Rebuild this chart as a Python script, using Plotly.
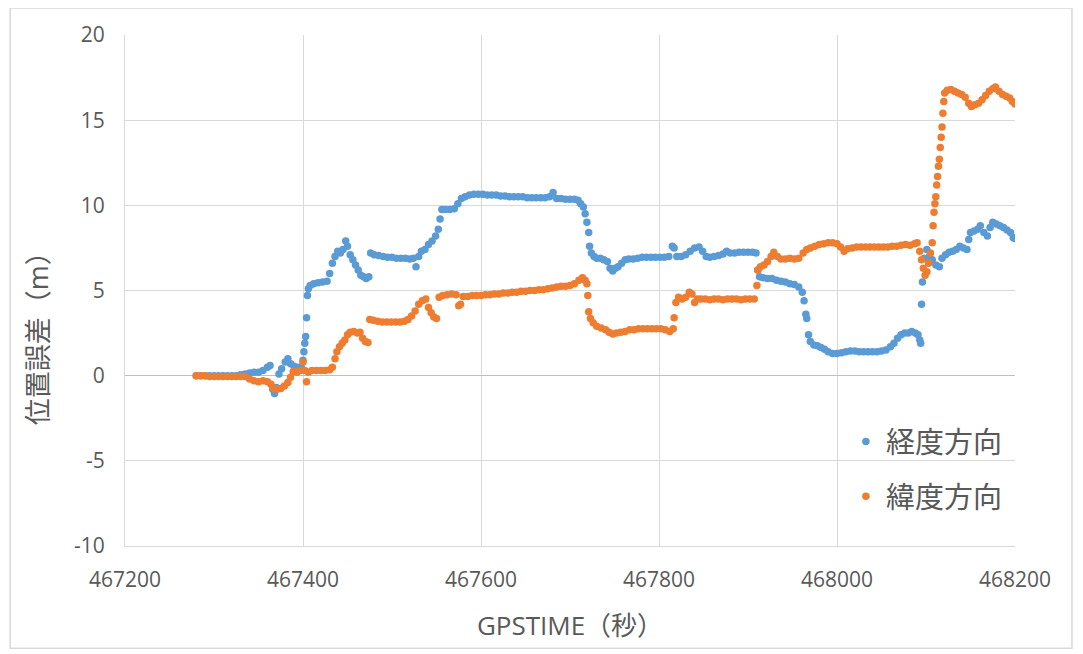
import plotly.graph_objects as go

# 経度方向 (longitude error)
lon_time = [
    467280, 467285, 467290, 467295, 467300, 467305, 467310, 467315, 467320, 467325,
    467330, 467335, 467340, 467345, 467350, 467355, 467360, 467363, 467366, 467368,
    467370, 467373, 467376, 467380, 467383, 467386, 467390, 467395, 467398, 467400,
    467401, 467402, 467403, 467404, 467405, 467406, 467408, 467412, 467417, 467422,
    467427, 467430, 467433, 467436, 467439, 467442, 467445, 467448, 467450, 467453,
    467456, 467459, 467462, 467465, 467468, 467471, 467474, 467476, 467480, 467485,
    467490, 467495, 467500, 467505, 467510, 467515, 467520, 467524, 467527, 467530,
    467533, 467537, 467541, 467545, 467549, 467552, 467554, 467556, 467560, 467565,
    467570, 467574, 467578, 467582, 467587, 467592, 467597, 467602, 467607, 467612,
    467617, 467622, 467627, 467632, 467637, 467642, 467647, 467652, 467657, 467662,
    467667, 467672, 467677, 467681, 467685, 467690, 467695, 467700, 467705, 467709,
    467712, 467715, 467717, 467719, 467721, 467722, 467724, 467727, 467730, 467734,
    467738, 467742, 467745, 467748, 467751, 467754, 467758, 467762, 467766, 467771,
    467776, 467781, 467786, 467791, 467796, 467801, 467806, 467811, 467815, 467817,
    467820, 467825, 467830, 467835, 467840, 467845, 467849, 467853, 467857, 467862,
    467867, 467872, 467876, 467880, 467885, 467890, 467895, 467900, 467905, 467909,
    467911, 467913, 467917, 467922, 467927, 467932, 467937, 467942, 467947, 467952,
    467957, 467961, 467963, 467965, 467966, 467968, 467970, 467974, 467978, 467982,
    467986, 467990, 467995, 468000, 468005, 468010, 468015, 468020, 468025, 468030,
    468035, 468040, 468045, 468050, 468055, 468060, 468064, 468068, 468072, 468076,
    468080, 468084, 468088, 468091, 468093, 468094, 468095, 468096, 468098, 468101,
    468104, 468107, 468111, 468115, 468118, 468122, 468126, 468130, 468134, 468138,
    468142, 468146, 468148, 468150, 468154, 468158, 468161, 468165, 468169, 468172,
    468175, 468179, 468183, 468187, 468191, 468195, 468198, 468200,
]
lon_err = [
    0.0, 0.0, 0.0, 0.0, 0.0, 0.0, 0.0, 0.0, 0.0, 0.0,
    0.05, 0.1, 0.15, 0.2, 0.2, 0.3, 0.5, 0.6, -0.8, -1.05,
    -0.7, 0.1, 0.4, 0.8, 1.0, 0.7, 0.55, 0.5, 0.5, 0.9,
    1.4, 1.9, 2.3, 3.4, 4.7, 5.1, 5.3, 5.4, 5.45, 5.5,
    5.55, 6.0, 6.6, 7.0, 7.3, 7.2, 7.4, 7.9, 7.6, 7.1,
    6.8, 6.5, 6.2, 5.9, 5.8, 5.7, 5.8, 7.2, 7.1, 7.05,
    7.0, 6.95, 6.95, 6.9, 6.9, 6.9, 6.85, 6.9, 6.4, 7.0,
    7.3, 7.4, 7.7, 7.9, 8.2, 8.6, 9.2, 9.75, 9.75, 9.75,
    9.8, 10.1, 10.4, 10.5, 10.6, 10.65, 10.65, 10.65, 10.6, 10.6,
    10.6, 10.55, 10.55, 10.5, 10.5, 10.5, 10.5, 10.45, 10.45, 10.45,
    10.45, 10.45, 10.5, 10.75, 10.4, 10.4, 10.35, 10.35, 10.35, 10.3,
    10.1, 9.9, 9.5, 9.0, 8.4, 7.6, 7.2, 7.0, 6.9, 6.9,
    6.8, 6.7, 6.3, 6.15, 6.3, 6.4, 6.6, 6.8, 6.85, 6.85,
    6.9, 6.95, 6.95, 6.95, 6.95, 6.95, 6.95, 7.0, 7.6, 7.5,
    7.0, 7.0, 7.1, 7.3, 7.5, 7.55, 7.3, 7.0, 6.95, 7.0,
    7.05, 7.15, 7.3, 7.2, 7.2, 7.25, 7.25, 7.25, 7.25, 7.2,
    6.2, 5.8, 5.75, 5.7, 5.7, 5.6, 5.55, 5.5, 5.4, 5.35,
    5.2, 4.9, 4.4, 3.6, 3.35, 2.4, 2.0, 1.8, 1.75, 1.65,
    1.55, 1.4, 1.3, 1.3, 1.35, 1.4, 1.45, 1.45, 1.4, 1.4,
    1.4, 1.4, 1.4, 1.45, 1.5, 1.7, 1.9, 2.2, 2.4, 2.5,
    2.5, 2.6, 2.5, 2.4, 2.1, 1.9, 4.2, 5.5, 6.9, 7.4,
    7.0, 6.8, 6.5, 6.4, 6.9, 7.1, 7.25, 7.3, 7.4, 7.6,
    7.5, 7.4, 8.0, 8.4, 8.5, 8.6, 8.8, 8.4, 8.2, 8.7,
    9.0, 8.9, 8.8, 8.7, 8.55, 8.4, 8.1, 8.05,
]

# 緯度方向 (latitude error)
lat_time = [
    467280, 467285, 467290, 467295, 467300, 467305, 467310, 467315, 467320, 467325,
    467330, 467335, 467340, 467345, 467350, 467355, 467360, 467364, 467367, 467371,
    467375, 467379, 467383, 467386, 467389, 467393, 467397, 467400, 467402, 467404,
    467406, 467410, 467415, 467420, 467425, 467430, 467433, 467436, 467438, 467441,
    467444, 467447, 467450, 467453, 467457, 467461, 467464, 467467, 467470, 467473,
    467475, 467479, 467484, 467489, 467494, 467499, 467504, 467509, 467514, 467518,
    467522, 467526, 467530, 467534, 467538, 467541, 467544, 467547, 467550, 467553,
    467557, 467562, 467567, 467572, 467575, 467577, 467580, 467585, 467590, 467595,
    467600, 467605, 467610, 467615, 467620, 467625, 467630, 467635, 467640, 467645,
    467650, 467655, 467660, 467665, 467670, 467675, 467680, 467685, 467690, 467695,
    467700, 467705, 467710, 467714, 467717, 467719, 467720, 467721, 467723, 467726,
    467730, 467735, 467740, 467744, 467748, 467752, 467757, 467762, 467767, 467772,
    467777, 467782, 467787, 467792, 467797, 467802, 467807, 467812, 467816, 467817,
    467819, 467822, 467826, 467830, 467834, 467837, 467840, 467843, 467847, 467852,
    467857, 467862, 467867, 467872, 467877, 467882, 467887, 467892, 467897, 467902,
    467907, 467910, 467911, 467914, 467918, 467922, 467926, 467929, 467933, 467937,
    467942, 467947, 467952, 467957, 467962, 467966, 467970, 467975, 467980, 467985,
    467990, 467995, 468000, 468004, 468008, 468012, 468017, 468022, 468027, 468032,
    468037, 468042, 468047, 468052, 468057, 468062, 468067, 468072, 468077, 468082,
    468087, 468090, 468093, 468095, 468097, 468099, 468101, 468103, 468105, 468107,
    468108, 468109, 468110, 468111, 468112, 468113, 468114, 468115, 468116, 468117,
    468118, 468119, 468120, 468121, 468124, 468128, 468132, 468136, 468140, 468144,
    468148, 468151, 468155, 468159, 468163, 468167, 468171, 468175, 468178, 468182,
    468186, 468190, 468194, 468197, 468200,
]
lat_err = [
    0.0, 0.0, 0.0, -0.05, -0.05, -0.05, -0.05, -0.05, -0.05, -0.05,
    -0.05, -0.05, -0.2, -0.3, -0.35, -0.3, -0.35, -0.5, -0.75, -0.8,
    -0.75, -0.6, -0.4, -0.1, 0.25, 0.2, 0.3, 0.8, 0.3, -0.35,
    0.2, 0.3, 0.3, 0.3, 0.3, 0.35, 0.5, 1.0, 1.4, 1.7,
    1.9, 2.1, 2.4, 2.55, 2.6, 2.5, 2.55, 2.2, 2.0, 1.95,
    3.3, 3.25, 3.2, 3.15, 3.15, 3.15, 3.15, 3.15, 3.2, 3.3,
    3.5, 3.8, 4.2, 4.4, 4.5, 4.0, 3.7, 3.45, 3.35, 4.6,
    4.7, 4.75, 4.8, 4.75, 4.1, 4.2, 4.65, 4.65, 4.7, 4.7,
    4.7, 4.75, 4.75, 4.8, 4.8, 4.85, 4.85, 4.9, 4.9, 4.95,
    4.95, 5.0, 5.0, 5.05, 5.05, 5.1, 5.15, 5.2, 5.25, 5.25,
    5.3, 5.4, 5.6, 5.75, 5.6, 5.4, 4.7, 3.75, 3.35, 3.1,
    2.9, 2.8, 2.7, 2.55, 2.45, 2.5, 2.55, 2.6, 2.7, 2.7,
    2.75, 2.75, 2.75, 2.75, 2.75, 2.75, 2.7, 2.6, 2.75, 3.4,
    4.3, 4.6, 4.5, 4.6, 4.9, 4.8, 4.3, 4.5, 4.5, 4.5,
    4.45, 4.5, 4.5, 4.45, 4.5, 4.5, 4.5, 4.45, 4.5, 4.5,
    4.5, 5.3, 6.2, 6.4, 6.5, 6.7, 7.0, 7.25, 7.0, 6.85,
    6.85, 6.9, 6.85, 6.9, 7.2, 7.4, 7.5, 7.6, 7.7, 7.75,
    7.8, 7.8, 7.75, 7.55, 7.3, 7.45, 7.5, 7.55, 7.55, 7.55,
    7.55, 7.55, 7.55, 7.55, 7.55, 7.6, 7.6, 7.65, 7.7, 7.65,
    7.75, 7.8, 7.3, 6.8, 6.3, 5.9, 6.1, 6.6, 7.2, 7.8,
    8.8, 9.6, 10.1, 10.5, 11.2, 11.7, 12.3, 12.7, 13.4, 14.0,
    14.6, 15.4, 16.1, 16.6, 16.75, 16.8, 16.7, 16.6, 16.5, 16.35,
    16.0, 15.8, 15.9, 16.0, 16.2, 16.45, 16.7, 16.85, 16.95, 16.7,
    16.5, 16.4, 16.3, 16.1, 15.95,
]

x_ticks = [467200, 467400, 467600, 467800, 468000, 468200]
y_ticks = [-10, -5, 0, 5, 10, 15, 20]
y_tick_text = ["-10", "-5", "0", "5", "10", "15", "20"]

BLUE = "#5B9BD5"
ORANGE = "#ED7D31"
GRID = "#D9D9D9"
TEXT = "#595959"
FONT = "Open Sans, Noto Sans CJK JP, sans-serif"

fig = go.Figure()
fig.add_trace(go.Scatter(
    x=lon_time, y=lon_err, mode="markers", name="経度方向",
    marker=dict(color=BLUE, size=7.5), legend="legend", showlegend=True,
))
fig.add_trace(go.Scatter(
    x=lat_time, y=lat_err, mode="markers", name="緯度方向",
    marker=dict(color=ORANGE, size=7.5), legend="legend2", showlegend=True,
))

legend_style = dict(
    xanchor="left", yanchor="middle", x=0.81,
    font=dict(size=29, color=TEXT, family=FONT),
    bgcolor="rgba(0,0,0,0)", visible=True,
)

fig.update_layout(
    width=1083, height=654,
    margin=dict(l=117, r=76, t=25, b=116),
    paper_bgcolor="white", plot_bgcolor="white",
    font=dict(family=FONT, color=TEXT, size=21),
    showlegend=True,
    legend=dict(y=0.204, **legend_style),
    legend2=dict(y=0.097, **legend_style),
    shapes=[dict(
        type="rect", xref="paper", yref="paper",
        x0=-0.129, x1=1.064, y0=-0.2, y1=1.053,
        line=dict(color=GRID, width=1.5), layer="below",
    )],
    annotations=[dict(
        text="位置誤差（m）", textangle=-90, showarrow=False,
        xref="paper", yref="paper", x=-0.098, y=0.42,
        xanchor="center", yanchor="middle",
        font=dict(size=27, color=TEXT, family=FONT),
    )],
)
fig.update_xaxes(
    range=[467200, 468200], tickvals=x_ticks, tickformat="d",
    showgrid=True, gridcolor=GRID, gridwidth=1.3,
    showline=True, linecolor=GRID,
    zeroline=False, ticks="outside", ticklen=15, tickcolor="rgba(0,0,0,0)",
    tickfont=dict(size=21, color=TEXT),
    title=dict(text="GPSTIME（秒）", font=dict(size=26, color=TEXT), standoff=24),
)
fig.update_yaxes(
    range=[-10, 20], tickvals=y_ticks, ticktext=y_tick_text,
    showgrid=True, gridcolor=GRID, gridwidth=1.3,
    showline=True, linecolor=GRID,
    zeroline=True, zerolinecolor="#BFBFBF", zerolinewidth=1.3,
    ticks="outside", ticklen=15, tickcolor="rgba(0,0,0,0)",
    tickfont=dict(size=21, color=TEXT),
)

fig.write_html("out.html")
